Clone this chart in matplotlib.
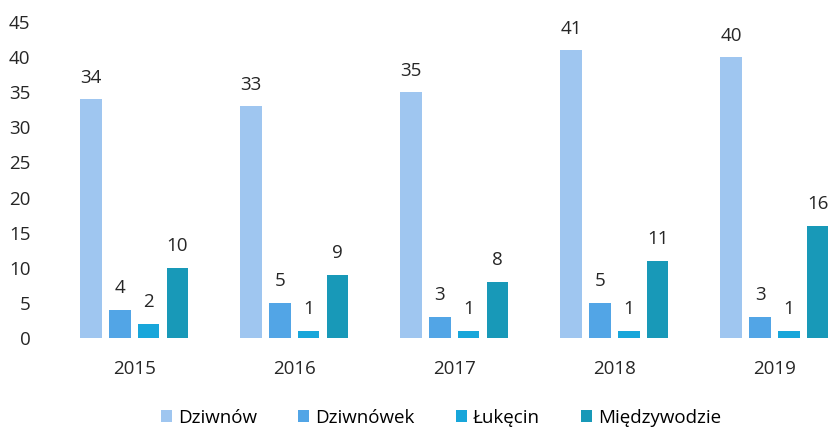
import numpy as np
import matplotlib
matplotlib.use("Agg")
import matplotlib.pyplot as plt

years = ["2015", "2016", "2017", "2018", "2019"]
series = ["Dziwnów", "Dziwnówek", "Łukęcin", "Międzywodzie"]
dziwnow = [34, 33, 35, 41, 40]
dziwnowek = [4, 5, 3, 5, 3]
lukecin = [2, 1, 1, 1, 1]
miedzywodzie = [10, 9, 8, 11, 16]
colors = ["#9fc6f0", "#52a5e6", "#18a6da", "#1899b8"]

plt.rcParams["font.family"] = ["Open Sans", "DejaVu Sans"]
fs = 13.5

fig = plt.figure(figsize=(8.32, 4.32), dpi=100)
ax = fig.add_axes([0.065, 0.2176, 0.962, 0.7315])

x = np.arange(len(years))
w = 0.135
step = 0.18
for i, (name, vals) in enumerate(zip(series, [dziwnow, dziwnowek, lukecin, miedzywodzie])):
    pos = x + (i - 1.5) * step
    ax.bar(pos, vals, width=w, color=colors[i], label=name)
    for p, v in zip(pos, vals):
        ax.annotate(str(v), (p, v), xytext=(0, 9), textcoords="offset points",
                    ha="center", va="bottom", fontsize=fs, color="#262626")

ax.set_xlim(-0.5, 4.5)
ax.set_ylim(0, 45)
ax.set_yticks(range(0, 50, 5))
ax.set_xticks(x)
ax.set_xticklabels(years)
ax.tick_params(axis="both", length=0, labelsize=fs, colors="#262626")
ax.tick_params(axis="y", pad=17)
ax.tick_params(axis="x", pad=16)
for s in ax.spines.values():
    s.set_visible(False)

fig.legend(loc="center", bbox_to_anchor=(0.53, 0.033), ncol=4, frameon=False,
           fontsize=fs, handlelength=0.6, handleheight=0.6, handletextpad=0.3,
           columnspacing=2.2)

fig.savefig("out.png", dpi=100)
